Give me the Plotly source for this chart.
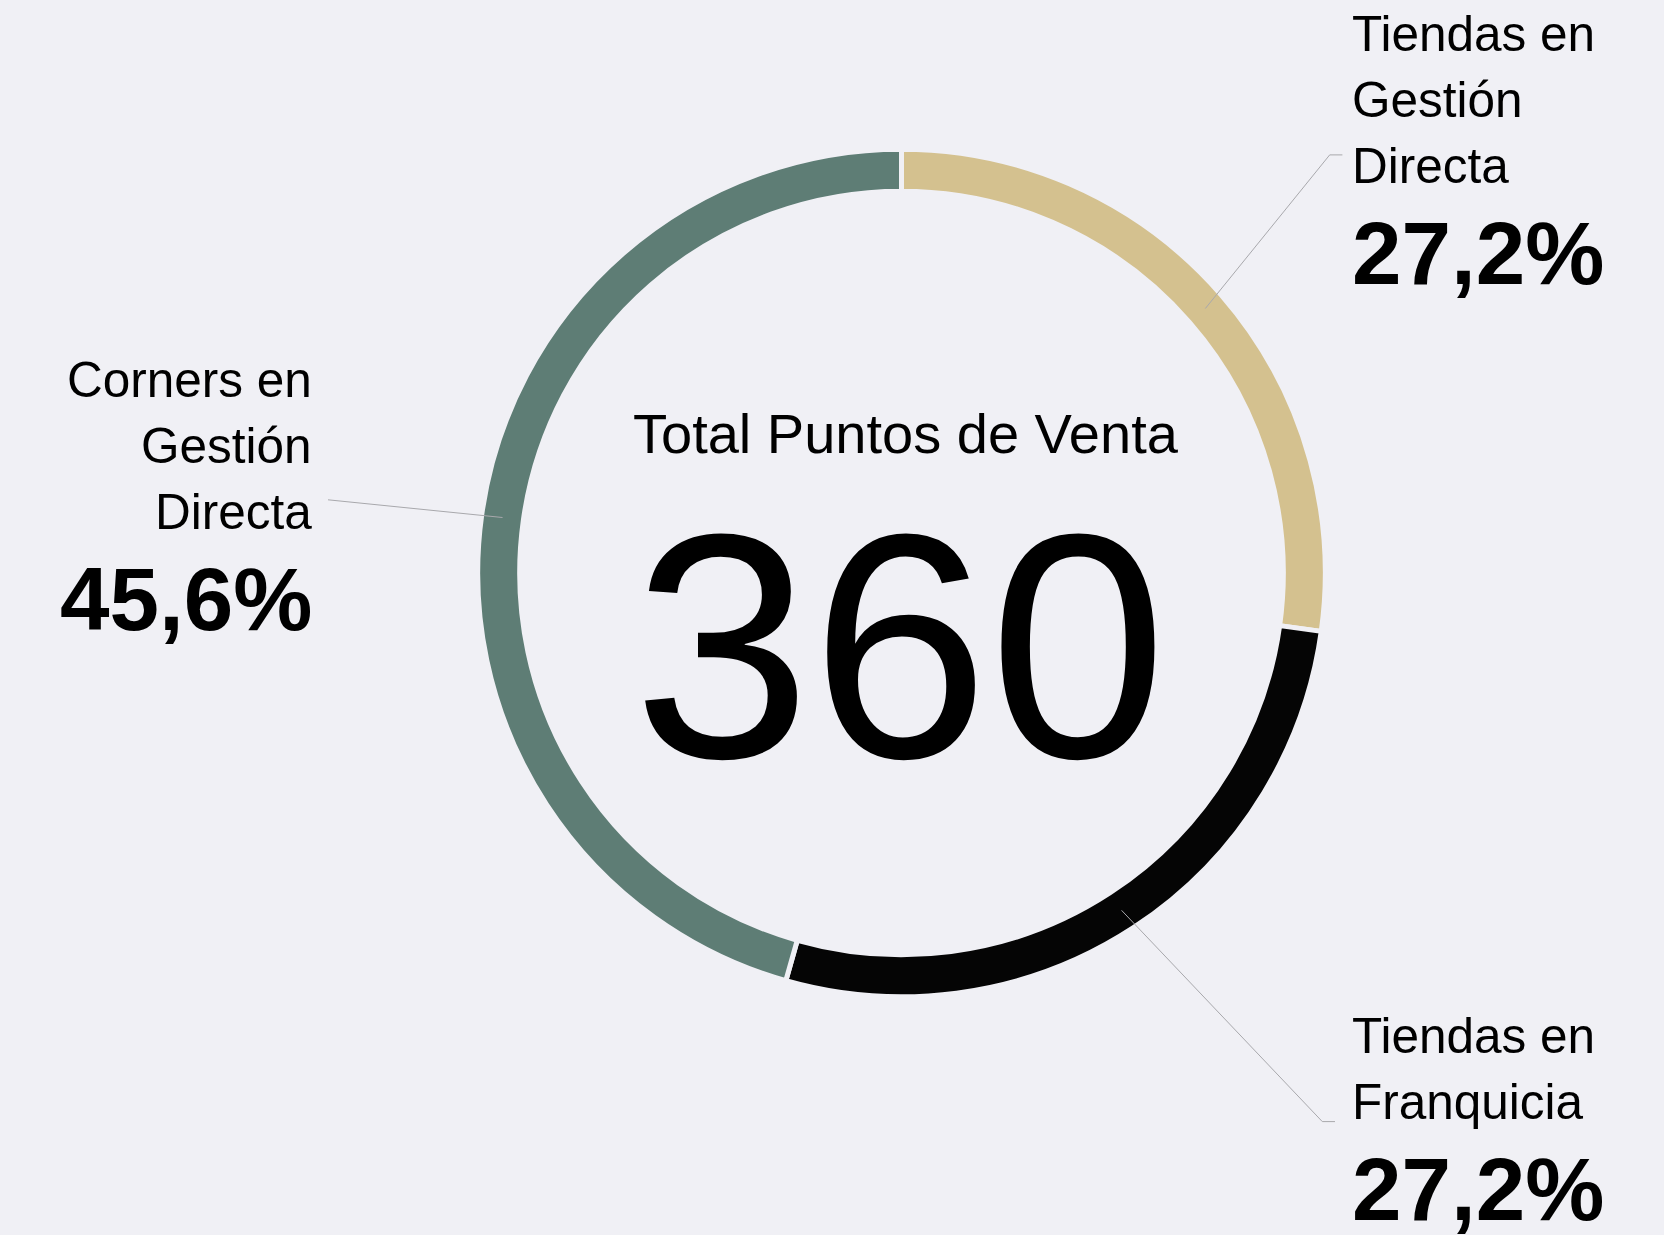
import math
import plotly.graph_objects as go

# Store breakdown (share of total points of sale, %)
labels = ["Tiendas en Gestión Directa", "Tiendas en Franquicia", "Corners en Gestión Directa"]
values = [27.2, 27.2, 45.6]
colors = ["#D4C18F", "#050505", "#5E7D75"]
label_lines = [
    ["Tiendas en", "Gestión", "Directa"],
    ["Tiendas en", "Franquicia"],
    ["Corners en", "Gestión", "Directa"],
]
total_points = 360
center_title = "Total Puntos de Venta"

W, H = 1664, 1235
BG = "#F0F0F5"
FONT = "Liberation Sans, Arial, sans-serif"
GAP = 5  # separator stroke between slices, drawn in the background colour

# ring geometry (pixels): visible outer radius and ring thickness
cx, cy, r_vis, thick = 901.5, 573.0, 421.3, 37.0
r_out = r_vis + GAP / 2
hole = 1 - (thick + GAP) / r_out
r_mid = r_vis - thick / 2

# label blocks: x anchor, alignment, first baseline, leader elbow and end
blocks = [
    dict(x=1350, align="left", base=51, elbow=(1329.7, 154.9), end=(1342.4, 154.9)),
    dict(x=1350, align="left", base=1053, elbow=(1322.3, 1121.6), end=(1335.0, 1121.6)),
    dict(x=314, align="right", base=397, elbow=None, end=(328.0, 499.8)),
]
LINE_PITCH = 65.7
PCT_GAP = 101.5
LABEL_SIZE = 49.5
PCT_SIZE = 89


def px(x):
    return x / W


def py(y):
    return 1 - y / H


def fmt_pct(v):
    return f"{v:.1f}".replace(".", ",") + "%"


fig = go.Figure()
fig.add_trace(go.Pie(
    labels=labels,
    values=values,
    hole=hole,
    sort=False,
    direction="clockwise",
    rotation=0,
    marker=dict(colors=colors, line=dict(color=BG, width=GAP)),
    textinfo="none",
    hoverinfo="label+percent",
    showlegend=False,
    domain=dict(x=[px(cx - r_out), px(cx + r_out)],
                y=[py(cy + r_out), py(cy - r_out)]),
))

annotations = []
shapes = []


def text_line(x, baseline, text, size, anchor, bold=False):
    # centre of the rendered text box sits ~0.35em above the baseline
    annotations.append(dict(
        x=px(x), y=py(baseline - 0.3465 * size), xref="paper", yref="paper",
        text=f"<b>{text}</b>" if bold else text,
        showarrow=False, xanchor=anchor, yanchor="middle",
        font=dict(family=FONT, size=size, color="#000000"),
    ))


cum = 0.0
tot = sum(values)
for v, lines, b in zip(values, label_lines, blocks):
    mid_frac = (cum + v / 2) / tot
    cum += v
    ang = mid_frac * 2 * math.pi
    sx = cx + r_mid * math.sin(ang)
    sy = cy - r_mid * math.cos(ang)
    pts = [(sx, sy)]
    if b["elbow"]:
        pts.append(b["elbow"])
    pts.append(b["end"])
    path = "M " + " L ".join(f"{px(x):.5f},{py(y):.5f}" for x, y in pts)
    shapes.append(dict(type="path", path=path, xref="paper", yref="paper",
                       line=dict(color="#A8A8AC", width=1)))

    for i, ln in enumerate(lines):
        text_line(b["x"], b["base"] + i * LINE_PITCH, ln, LABEL_SIZE, b["align"])
    last = b["base"] + (len(lines) - 1) * LINE_PITCH
    text_line(b["x"], last + PCT_GAP, fmt_pct(v), PCT_SIZE, b["align"], bold=True)

# centre texts
text_line(906, 453, center_title, 56, "center")
annotations.append(dict(
    x=px(900), y=py(645.5), xref="paper", yref="paper",
    text=str(total_points), showarrow=False, xanchor="center", yanchor="middle",
    font=dict(family=FONT, size=320, color="#000000"),
))

fig.update_layout(
    width=W, height=H, autosize=False,
    margin=dict(l=0, r=0, t=0, b=0),
    paper_bgcolor=BG, plot_bgcolor=BG,
    annotations=annotations, shapes=shapes,
)

fig.write_html("out.html")
